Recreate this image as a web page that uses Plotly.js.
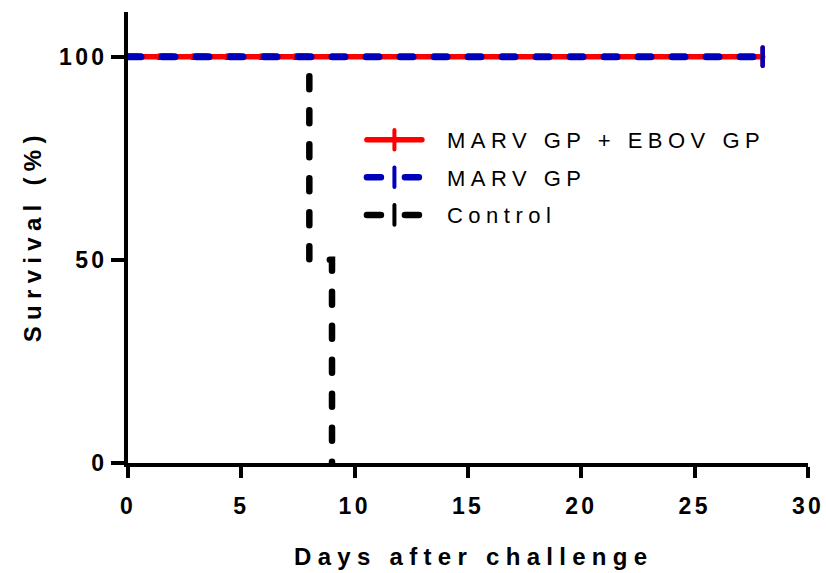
<!DOCTYPE html>
<html>
<head>
<meta charset="utf-8">
<script src="https://cdn.plot.ly/plotly-3.0.1.min.js"></script>
<style>
  html, body { margin: 0; padding: 0; background: #fff; }
  #chart { width: 826px; height: 573px; }
  .legendtext { letter-spacing: 5.5px; transform: translate(20px, 0px); }
  .legend .scrollbox { clip-path: none !important; }
  .annotation-text { letter-spacing: 6.3px; }
  .xtick text, .ytick text { letter-spacing: 3.3px; }
  .scatterlayer .js-line, .legendlines path { stroke-linecap: round; }
  .scatterlayer .points path, .legendpoints path { stroke-linecap: round; }
  .tracectrl .js-line { stroke-dashoffset: 3px; }
</style>
</head>
<body>
<div id="chart"></div>
<script>
// Kaplan-Meier survival data (days, % survival)
const seriesNames = ["MARV GP + EBOV GP", "MARV GP", "Control"];
const comboDays = [0, 28];
const comboSurvival = [100, 100];
const marvDays = [0, 28];
const marvSurvival = [100, 100];
const controlDays = [0, 8, 9];
const controlSurvival = [100, 50, 0];
// censored observations (end of study)
const comboCensorDays = [28];
const comboCensorSurvival = [100];
const marvCensorDays = [28];
const marvCensorSurvival = [100];
const xTickVals = [0, 5, 10, 15, 20, 25, 30];
const yTickVals = [0, 50, 100];

const RED = "#ff0000", BLUE = "#0000bb", BLACK = "#000000";
const FONT = "Liberation Sans, Arial, sans-serif";

function lineTrace(x, y, color, dash, width, uid) {
  const t = { x: x, y: y, mode: "lines", type: "scatter", showlegend: false,
    line: { shape: "hv", color: color, width: width, dash: dash }, hoverinfo: "skip" };
  if (uid) t.uid = uid;
  return t;
}
function censorTrace(x, y, color) {
  return { x: x, y: y, mode: "markers", type: "scatter", showlegend: false,
    marker: { symbol: "line-ns", size: 13, color: color, line: { color: color, width: 4.5 } }, hoverinfo: "skip" };
}
function legendTrace(name, color, dash, width, group) {
  return { x: [null], y: [null], name: name, mode: "lines+markers", type: "scatter",
    legendgroup: group,
    line: { color: color, width: width, dash: dash },
    marker: { symbol: "line-ns", size: 14, color: color, line: { color: color, width: 4 } } };
}
const dashPat = "13px,21px";
const legendDash = "14px,24px";

const data = [
  lineTrace(controlDays, controlSurvival, BLACK, dashPat, 6.5, "ctrl"),
  lineTrace(comboDays, comboSurvival, RED, "solid", 5.5),
  censorTrace(comboCensorDays, comboCensorSurvival, RED),
  lineTrace(marvDays, marvSurvival, BLUE, dashPat, 7),
  censorTrace(marvCensorDays, marvCensorSurvival, BLUE),
  legendTrace(seriesNames[0], RED, "solid", 5.5, "a"),
  legendTrace(seriesNames[1], BLUE, legendDash, 6.5, "b"),
  legendTrace(seriesNames[2], BLACK, legendDash, 6.5, "c")
];

const tickFont = { family: FONT, size: 23, weight: 700, color: "#000" };
const titleFont = { family: FONT, size: 24, weight: 700, color: "#000" };

const layout = {
  width: 826, height: 573,
  margin: { l: 128, r: 18, t: 12, b: 110 },
  paper_bgcolor: "#fff", plot_bgcolor: "#fff",
  font: { family: FONT, color: "#000" },
  showlegend: true,
  legend: { x: 0.344, y: 0.763, xanchor: "left", yanchor: "top",
    font: { family: FONT, size: 22, color: "#000" },
    itemwidth: 55, tracegroupgap: 6, bgcolor: "rgba(0,0,0,0)" },
  xaxis: {
    range: [0, 30], tickvals: xTickVals, ticktext: xTickVals.map(String),
    showline: true, linewidth: 4, linecolor: "#000",
    ticks: "outside", ticklen: 11, tickwidth: 4, tickcolor: "#000",
    showgrid: false, zeroline: false, fixedrange: true,
    ticklabelstandoff: 8,
    tickfont: tickFont
  },
  yaxis: {
    range: [0, 111], tickvals: yTickVals, ticktext: yTickVals.map(String),
    showline: true, linewidth: 4, linecolor: "#000",
    ticks: "outside", ticklen: 13, tickwidth: 4, tickcolor: "#000",
    showgrid: false, zeroline: false, fixedrange: true,
    ticklabelstandoff: -1,
    tickfont: tickFont
  },
  annotations: [
    { text: "Days after challenge", xref: "paper", yref: "paper", x: 0.508, y: -0.208,
      xanchor: "center", yanchor: "middle", showarrow: false, font: titleFont },
    { text: "Survival (%)", xref: "paper", yref: "paper", x: -0.141, y: 0.503,
      xanchor: "center", yanchor: "middle", showarrow: false, textangle: -90, font: titleFont }
  ]
};

Plotly.newPlot("chart", data, layout, { displayModeBar: false, staticPlot: true });
</script>
</body>
</html>
